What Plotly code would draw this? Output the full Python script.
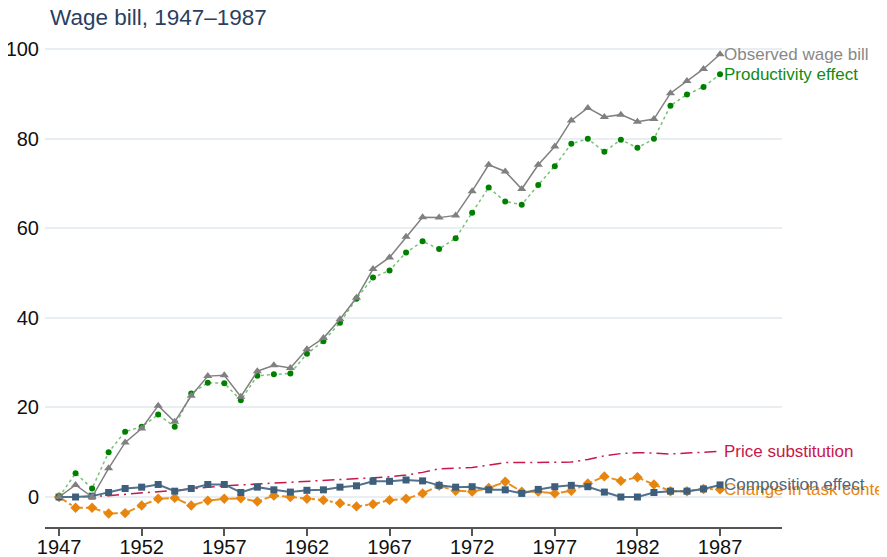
import plotly.graph_objects as go

years = list(range(1947, 1988))

observed = [0, 2.7, 0, 6.4, 12.2, 15.3, 20.4, 16.8, 22.6, 27.0, 27.2, 22.4, 28.1, 29.4, 28.8,
            33.0, 35.5, 39.7, 44.5, 50.9, 53.5, 58.1, 62.5, 62.4, 62.9, 68.3, 74.2, 72.7, 68.8,
            74.2, 78.3, 84.1, 86.9, 84.9, 85.4, 83.8, 84.4, 90.2, 92.9, 95.6, 98.9]

productivity = [0, 5.3, 1.9, 10.0, 14.6, 15.7, 18.4, 15.7, 23.1, 25.5, 25.4, 21.6, 27.1, 27.4, 27.6,
                32.0, 34.8, 38.9, 44.3, 49.0, 50.6, 54.6, 57.1, 55.4, 57.8, 63.5, 69.1, 66.0, 65.3,
                69.7, 73.9, 78.9, 80.0, 77.1, 79.8, 78.0, 80.0, 87.4, 89.9, 91.6, 94.4]

price_subst = [0, 0, 0.1, 0.3, 0.6, 0.9, 1.1, 1.4, 1.8, 2.2, 2.5, 2.7, 2.9, 3.1, 3.3,
               3.5, 3.7, 3.9, 4.0, 4.2, 4.5, 4.9, 5.5, 6.3, 6.4, 6.6, 7.1, 7.7, 7.7,
               7.7, 7.7, 7.8, 8.4, 9.2, 9.7, 9.9, 9.8, 9.6, 9.8, 10.0, 10.2]

composition = [0, 0, 0.2, 1.0, 1.9, 2.2, 2.8, 1.3, 1.9, 2.8, 2.8, 1.0, 2.2, 1.6, 1.1,
               1.5, 1.6, 2.2, 2.5, 3.5, 3.5, 3.8, 3.6, 2.6, 2.2, 2.3, 1.6, 1.6, 0.8,
               1.7, 2.3, 2.6, 2.3, 1.1, 0, 0, 1.0, 1.3, 1.3, 1.8, 2.7]

task_content = [0, -2.4, -2.4, -3.7, -3.6, -1.9, -0.4, -0.2, -1.9, -0.8, -0.4, -0.3, -1.0, 0.3, 0,
                -0.4, -0.7, -1.4, -2.1, -1.6, -0.7, -0.4, 0.8, 2.5, 1.4, 1.2, 2.0, 3.4, 1.2,
                1.2, 0.8, 1.4, 3.0, 4.6, 3.6, 4.4, 2.8, 1.3, 1.3, 1.8, 1.7]

tick_years = [1947, 1952, 1957, 1962, 1967, 1972, 1977, 1982, 1987]
y_ticks = [0, 20, 40, 60, 80, 100]

FONT = "Liberation Sans, Arial, sans-serif"

series = [
    dict(name="Price substitution", y=price_subst, line=dict(color="#c8174a", width=1.5, dash="12px,5px,2px,5px"),
         mode="lines", marker=None, text_color="#c8174a"),
    dict(name="Change in task content", y=task_content, line=dict(color="#e8901f", width=2, dash="dashdot"),
         mode="lines+markers", marker=dict(symbol="diamond", size=8, color="#e8850f"), text_color="#e8850f"),
    dict(name="Composition effect", y=composition, line=dict(color="#52718c", width=2),
         mode="lines+markers", marker=dict(symbol="square", size=7, color="#3d5f7c"), text_color="#4a6a85"),
    dict(name="Productivity effect", y=productivity, line=dict(color="rgba(60,170,60,0.7)", width=1.5, dash="dot"),
         mode="lines+markers", marker=dict(symbol="circle", size=6, color="#008000"), text_color="#138a13"),
    dict(name="Observed wage bill", y=observed, line=dict(color="#808080", width=1.5),
         mode="lines+markers", marker=dict(symbol="triangle-up", size=8, color="#808080"), text_color="#888888"),
]

fig = go.Figure()
for s in series:
    kw = dict(x=years, y=s["y"], name=s["name"], mode=s["mode"], line=s["line"], cliponaxis=False,
              showlegend=False)
    if s["marker"] is not None:
        kw["marker"] = s["marker"]
    fig.add_trace(go.Scatter(**kw))

for s in series:
    fig.add_annotation(x=years[-1], y=s["y"][-1], xref="x", yref="y", text=s["name"],
                       showarrow=False, xanchor="left", yanchor="middle", xshift=2,
                       font=dict(size=17, color=s["text_color"], family=FONT))

fig.update_layout(
    width=887, height=557,
    margin=dict(l=37, r=113, t=35, b=38),
    paper_bgcolor="white", plot_bgcolor="white",
    font=dict(family=FONT, color="#111111"),
    title=dict(text="Wage bill, 1947\u20131987", x=42 / 887, xref="container", xanchor="left",
               y=1 - 9 / 557, yref="container", yanchor="middle",
               font=dict(size=22.5, color="#2a3f5f", family=FONT)),
    xaxis=dict(range=[1946.15, 1990.75], tickvals=tick_years, ticktext=[str(t) for t in tick_years],
               showgrid=False, zeroline=False, showline=True, linecolor="#555555", linewidth=1.5,
               ticks="outside", ticklen=7, tickwidth=1.5, tickcolor="#555555", automargin=False,
               ticklabelstandoff=-6,
               tickfont=dict(size=20, color="#111111")),
    yaxis=dict(range=[-6.7, 101.4], tickvals=y_ticks, showgrid=True, gridcolor="#e8eef2", gridwidth=2,
               zeroline=False, showline=False, ticks="", ticklabelstandoff=5, automargin=False,
               tickfont=dict(size=20, color="#111111")),
)

fig.write_html("out.html")
